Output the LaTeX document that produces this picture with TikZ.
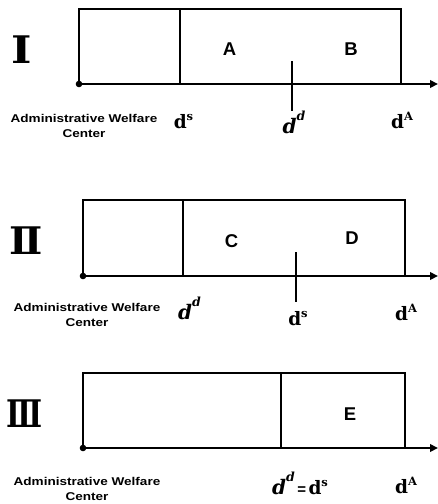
\documentclass[tikz,border=0pt]{standalone}
\usepackage{fontspec}
\setmainfont{Liberation Serif}
\newfontfamily\regionsans{Liberation Sans}
\newfontfamily\originsans[FakeStretch=1.2]{Liberation Sans}
\newfontfamily\numfont{DejaVu Serif}
\newfontfamily\dfont{DejaVu Serif}
\usetikzlibrary{arrows.meta}

% distance symbols: upright bold d^s, d^A and italic d^d
\newcommand\dsup[1]{{\dfont\bfseries\fontsize{18.5}{18.5}\selectfont d}%
  \raisebox{8pt}{\dfont\bfseries\fontsize{11.5}{11.5}\selectfont #1}}
\newcommand\ddem{{\dfont\bfseries\itshape\fontsize{20}{20}\selectfont d}%
  \raisebox{13pt}{\dfont\bfseries\itshape\fontsize{12.5}{12.5}\selectfont d}}
\newcommand\eqsign{{\regionsans\bfseries\fontsize{15}{15}\selectfont\,=\,}}

\begin{document}
\begin{tikzpicture}[x=1pt,y=-1pt,
  boxline/.style={line width=2.6pt},
  axisline/.style={line width=2.6pt,-{Triangle[length=8pt,width=7.5pt]}},
  region/.style={font=\regionsans\bfseries\fontsize{18.5}{18.5}\selectfont},
  origin/.style={font=\originsans\bfseries\fontsize{11.3}{15}\selectfont,align=center,inner sep=0pt},
  numeral/.style={font=\numfont\bfseries\fontsize{38}{38}\selectfont,inner sep=0pt},
  dist/.style={anchor=base,inner sep=0pt}]
\useasboundingbox (0,0) rectangle (438,504);

% ---------- case I ----------
\coordinate (I-o) at (79,84);
\coordinate (I-ot) at (79,9);
\coordinate (I-s) at (180,84);
\coordinate (I-st) at (180,9);
\coordinate (I-a) at (401,84);
\coordinate (I-at) at (401,9);
\coordinate (I-end) at (438,84);
\coordinate (I-d1) at (292,61);
\coordinate (I-d2) at (292,111);
\draw[boxline] (I-o) -- (I-ot) -- (I-at) -- (I-a);
\draw[boxline] (I-s) -- (I-st);
\draw[axisline] (I-o) -- (I-end);
\draw[boxline] (I-d1) -- (I-d2);
\fill (I-o) circle (3.3pt);
\node[numeral] (I-n) at (21.5,49.5) {\scalebox{1.15}[1]{Ⅰ}};
\node[region] (I-A) at (229.5,49) {A};
\node[region] (I-B) at (351,49) {B};
\node[origin] (I-c) at (84,125.5) {Administrative Welfare\\Center};
\node[dist] (I-ls) at (183.5,128) {\dsup{s}};
\node[dist] (I-ld) at (294,133) {\ddem};
\node[dist] (I-lA) at (402,128) {\dsup{A}};

% ---------- case II ----------
\coordinate (II-o) at (83,276);
\coordinate (II-ot) at (83,200);
\coordinate (II-d) at (183,276);
\coordinate (II-dt) at (183,200);
\coordinate (II-a) at (405,276);
\coordinate (II-at) at (405,200);
\coordinate (II-end) at (438,276);
\coordinate (II-s1) at (296,252);
\coordinate (II-s2) at (296,302);
\draw[boxline] (II-o) -- (II-ot) -- (II-at) -- (II-a);
\draw[boxline] (II-d) -- (II-dt);
\draw[axisline] (II-o) -- (II-end);
\draw[boxline] (II-s1) -- (II-s2);
\fill (II-o) circle (3.3pt);
\node[numeral] (II-n) at (26,240.5) {\scalebox{1.04}[1]{Ⅱ}};
\node[region] (II-C) at (231.5,241) {C};
\node[region] (II-D) at (352,238) {D};
\node[origin] (II-c) at (87,314.5) {Administrative Welfare\\Center};
\node[dist] (II-ld) at (189.5,319) {\ddem};
\node[dist] (II-ls) at (298,325) {\dsup{s}};
\node[dist] (II-lA) at (406,320) {\dsup{A}};

% ---------- case III ----------
\coordinate (III-o) at (83,448);
\coordinate (III-ot) at (83,373);
\coordinate (III-e) at (281,448);
\coordinate (III-et) at (281,373);
\coordinate (III-a) at (405,448);
\coordinate (III-at) at (405,373);
\coordinate (III-end) at (438,448);
\draw[boxline] (III-o) -- (III-ot) -- (III-at) -- (III-a);
\draw[boxline] (III-e) -- (III-et);
\draw[axisline] (III-o) -- (III-end);
\fill (III-o) circle (3.3pt);
\node[numeral] (III-n) at (25,413.5) {\scalebox{0.78}[1]{Ⅲ}};
\node[region] (III-E) at (350,414) {E};
\node[origin] (III-c) at (87,488.5) {Administrative Welfare\\Center};
\node[dist] (III-l) at (300,494) {\ddem\eqsign\dsup{s}};
\node[dist] (III-lA) at (406,493) {\dsup{A}};
\end{tikzpicture}
\end{document}
